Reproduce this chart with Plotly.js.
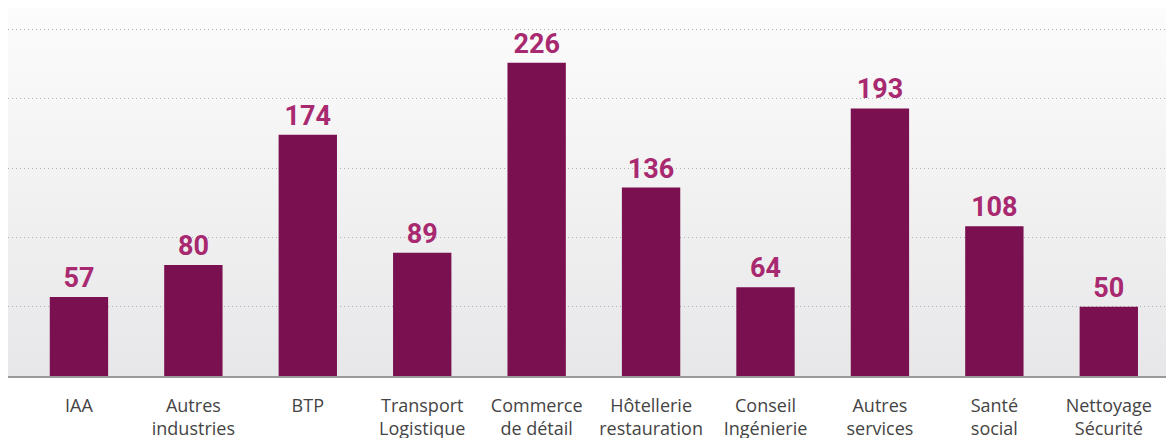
<!DOCTYPE html>
<html>
<head>
<meta charset="utf-8">
<script src="https://cdn.plot.ly/plotly-3.0.1.min.js"></script>
<style>
  html, body { margin: 0; padding: 0; background: #fff; }
  #plot { width: 1166px; height: 438px; }
</style>
</head>
<body>
<div id="plot"></div>
<script>
// Secteurs d'activité
var secteurs = ["IAA", "Autres<br>industries", "BTP", "Transport<br>Logistique", "Commerce<br>de détail",
  "Hôtellerie<br>restauration", "Conseil<br>Ingénierie", "Autres<br>services", "Santé<br>social", "Nettoyage<br>Sécurité"];
var effectifs = [57, 80, 174, 89, 226, 136, 64, 193, 108, 50];

var barColor = "#7a1050";
var labelColor = "#a8296f";

// fond dégradé clair -> gris
var bgSvg = '<svg xmlns="http://www.w3.org/2000/svg" width="100" height="100" preserveAspectRatio="none">' +
  '<defs><linearGradient id="g" x1="0" y1="0" x2="0" y2="1">' +
  '<stop offset="0" stop-color="#fcfcfc"/><stop offset="1" stop-color="#e7e7e9"/>' +
  '</linearGradient></defs><rect width="100" height="100" fill="url(#g)"/></svg>';

var trace = {
  x: secteurs,
  y: effectifs,
  type: "bar",
  marker: { color: barColor },
  text: effectifs.map(String),
  textposition: "outside",
  cliponaxis: false,
  textfont: { family: "Roboto", size: 27, color: labelColor, weight: "bold" },
  hoverinfo: "x+y"
};

var layout = {
  width: 1166,
  height: 438,
  margin: { l: 8, r: 0, t: 8, b: 62 },
  paper_bgcolor: "#ffffff",
  plot_bgcolor: "rgba(0,0,0,0)",
  bargap: 0.49,
  showlegend: false,
  font: { family: "Open Sans", color: "#444444" },
  xaxis: {
    range: [-0.62, 9.5],
    showline: true,
    linecolor: "#9a9a9a",
    linewidth: 2,
    ticks: "",
    ticklabelstandoff: 12,
    tickfont: { family: "Open Sans", size: 18, color: "#444444" },
    showgrid: false,
    zeroline: false,
    fixedrange: true
  },
  yaxis: {
    range: [0, 265.5],
    dtick: 50,
    showticklabels: false,
    showgrid: true,
    gridcolor: "#b0b0b0",
    griddash: "1px,3px",
    gridwidth: 1,
    zeroline: false,
    fixedrange: true
  },
  images: [{
    source: "data:image/svg+xml;charset=utf-8," + encodeURIComponent(bgSvg),
    xref: "paper", yref: "paper",
    x: 0, y: 1, sizex: 1, sizey: 1,
    xanchor: "left", yanchor: "top",
    sizing: "stretch",
    layer: "below"
  }]
};

Plotly.newPlot("plot", [trace], layout, { displayModeBar: false, staticPlot: true });
</script>
</body>
</html>
